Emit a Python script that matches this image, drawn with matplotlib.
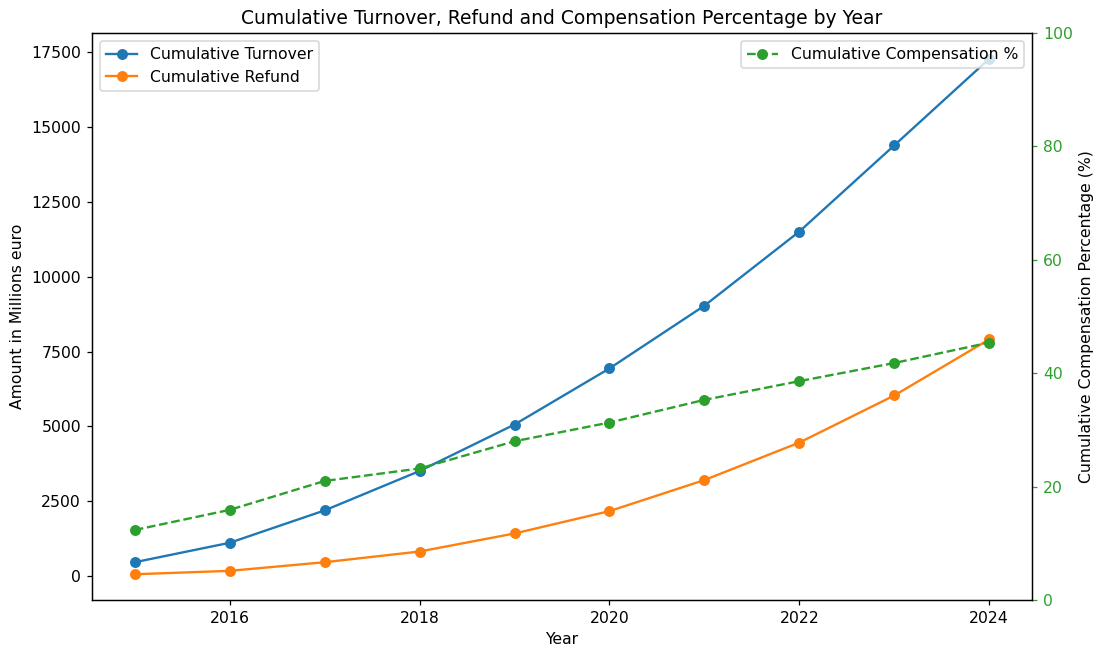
import matplotlib
matplotlib.use("Agg")
import matplotlib.pyplot as plt

years = [2015, 2016, 2017, 2018, 2019, 2020, 2021, 2022, 2023, 2024]
cum_turnover = [462, 1112, 2194, 3510, 5064, 6939, 9036, 11514, 14394, 17288]
cum_refund = [60, 174, 462, 820, 1423, 2170, 3208, 4461, 6035, 7910]
cum_comp_pct = [12.35, 15.9, 21.0, 23.2, 28.0, 31.3, 35.3, 38.6, 41.8, 45.4]

DPI = 112.5
fig, ax1 = plt.subplots(figsize=(1097 / DPI, 647 / DPI), dpi=DPI)
fig.subplots_adjust(left=0.0839, right=0.9407, top=0.949, bottom=0.0726)

ax1.plot(years, cum_turnover, marker='o', color='tab:blue', label='Cumulative Turnover')
ax1.plot(years, cum_refund, marker='o', color='tab:orange', label='Cumulative Refund')
ax1.set_xlabel('Year')
ax1.set_ylabel('Amount in Millions euro')
ax1.legend(loc='upper left')

ax2 = ax1.twinx()
ax2.plot(years, cum_comp_pct, marker='o', linestyle='--', color='tab:green', label='Cumulative Compensation %')
ax2.set_ylabel('Cumulative Compensation Percentage (%)')
ax2.set_ylim(0, 100)
ax2.tick_params(axis='y', labelcolor='tab:green', color='tab:green')
ax2.legend(loc='upper right')

ax1.set_title('Cumulative Turnover, Refund and Compensation Percentage by Year')

fig.savefig('out.png', dpi=DPI)
